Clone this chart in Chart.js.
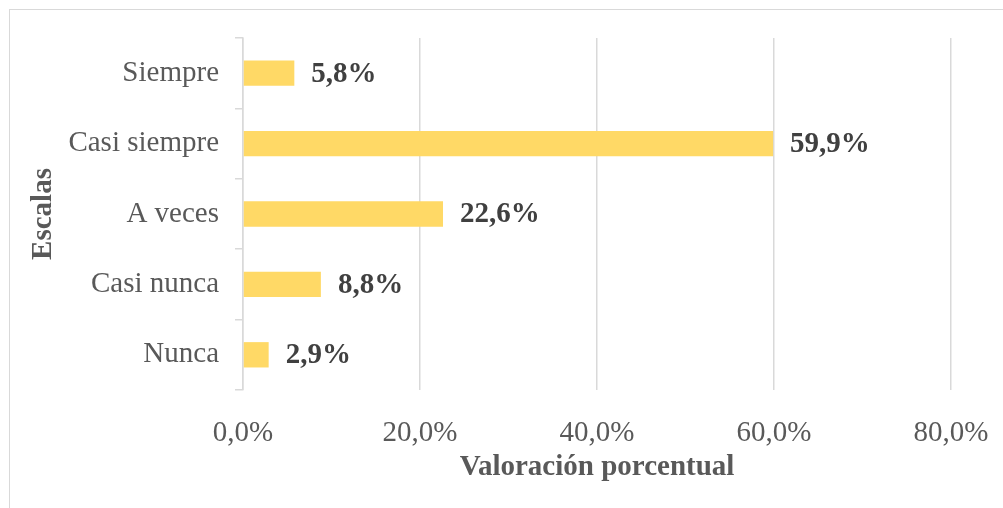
<!DOCTYPE html>
<html>
<head>
<meta charset="utf-8">
<script src="https://cdn.jsdelivr.net/npm/chart.js@4"></script>
<style>
  body { margin: 0; background: #fff; }
  #wrap { position: relative; width: 1003px; height: 508px; }
  #frame { position: absolute; left: 9px; top: 9px; width: 1010px; height: 520px; border: 1px solid #d9d9d9; box-sizing: border-box; }
  canvas { position: absolute; left: 0; top: 0; }
</style>
</head>
<body>
<div id="wrap">
  <div id="frame"></div>
  <canvas id="myChart" width="1003" height="508"></canvas>
</div>
<script>
var categories = ['Siempre', 'Casi siempre', 'A veces', 'Casi nunca', 'Nunca'];
var values = [5.8, 59.9, 22.6, 8.8, 2.9];
var xTicks = [0, 20, 40, 60, 80];

function pct(v) {
    return v.toFixed(1).replace('.', ',') + '%';
}

// etiquetas de valor al final de cada barra
var valueLabels = {
    id: 'valueLabels',
    afterDatasetsDraw: function(chart) {
        var ctx = chart.ctx;
        var meta = chart.getDatasetMeta(0);
        ctx.save();
        ctx.font = 'bold 29px "Liberation Serif"';
        ctx.fillStyle = '#404040';
        ctx.textAlign = 'left';
        ctx.textBaseline = 'middle';
        meta.data.forEach(function(bar, i) {
            ctx.fillText(pct(values[i]), bar.x + 17, bar.y + 1);
        });
        ctx.restore();
    }
};

document.addEventListener("DOMContentLoaded", function() {
    var ctx = document.getElementById('myChart').getContext('2d');

    var myChart = new Chart(ctx, {
        type: 'bar',
        data: {
            labels: categories,
            datasets: [{
                label: 'Valoración porcentual',
                data: values,
                backgroundColor: '#FFD966',
                borderWidth: 0,
                barPercentage: 0.36,
                categoryPercentage: 1
            }]
        },
        plugins: [valueLabels],
        options: {
            indexAxis: 'y',
            responsive: false,
            animation: false,
            layout: { padding: { top: 38, right: 52, bottom: 19, left: 22 } },
            plugins: {
                legend: { display: false },
                tooltip: { enabled: false }
            },
            scales: {
                x: {
                    min: 0,
                    max: 80,
                    afterBuildTicks: function(scale) {
                        scale.ticks = xTicks.map(function(v) { return { value: v }; });
                    },
                    afterFit: function(scale) {
                        scale.height = 99;
                        scale.paddingLeft = 0;
                        scale.paddingRight = 0;
                    },
                    grid: { color: '#d9d9d9', lineWidth: 1.5, drawTicks: false },
                    border: { display: false },
                    ticks: {
                        padding: 26,
                        color: '#595959',
                        font: { family: 'Liberation Serif', size: 29 },
                        callback: function(v) { return pct(v); }
                    },
                    title: {
                        display: true,
                        text: 'Valoración porcentual',
                        color: '#595959',
                        font: { family: 'Liberation Serif', size: 29, weight: 'bold' },
                        padding: { top: 4, bottom: 4 }
                    }
                },
                y: {
                    afterFit: function(scale) { scale.width = 221; },
                    grid: { display: true, drawOnChartArea: false, offset: true, tickLength: 8, color: '#d9d9d9', lineWidth: 1.5 },
                    border: { display: true, color: '#d9d9d9', width: 1.5 },
                    ticks: {
                        padding: 16,
                        color: '#595959',
                        font: { family: 'Liberation Serif', size: 29 }
                    },
                    title: {
                        display: true,
                        text: 'Escalas',
                        color: '#595959',
                        font: { family: 'Liberation Serif', size: 29, weight: 'bold' },
                        padding: { top: 4, bottom: 4 }
                    }
                }
            }
        }
    });
});
</script>
</body>
</html>
